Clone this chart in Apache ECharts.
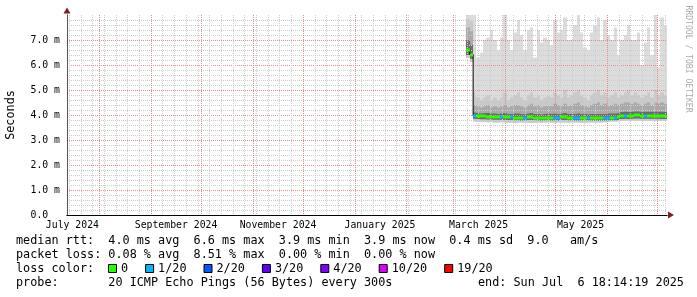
<!DOCTYPE html>
<html>
<head>
<meta charset="utf-8">
<script src="https://cdn.jsdelivr.net/npm/echarts@6/dist/echarts.min.js"></script>
<style>
html, body { margin: 0; padding: 0; background: #fff; }
#chart { width: 697px; height: 297px; }
</style>
</head>
<body>
<div id="chart"></div>
<script>
// smokeping rtt graph, last ~360 days
const startTime = '2024-07-12 18:14:19'
const endTime = '2025-07-06 18:14:19'
const firstSample = '2025-03-08 18:14:19'
const sampleStepDays = 2

const labelDates = ['2024-07-16', '2024-09-16', '2024-11-16', '2025-01-16', '2025-03-16', '2025-05-16']
const labelTexts = ['July 2024', 'September 2024', 'November 2024', 'January 2025', 'March 2025', 'May 2025']
const monthStarts = ['2024-08-01', '2024-09-01', '2024-10-01', '2024-11-01', '2024-12-01', '2025-01-01',
    '2025-02-01', '2025-03-01', '2025-04-01', '2025-05-01', '2025-06-01', '2025-07-01']
const firstSunday = '2024-07-14'

// values in ms, one per 2 day step
const median = [
    6.62, 6.42, 3.96, 3.96, 3.96, 3.95, 3.94, 3.93, 3.93, 3.92,
    3.93, 3.92, 3.91, 3.91, 3.90, 3.90, 3.89, 3.90, 3.92, 3.92,
    3.90, 3.89, 3.88, 3.90, 3.90, 3.89, 3.90, 3.89, 3.91, 3.91,
    3.90, 3.90, 3.89, 3.89, 3.90, 3.90, 3.90, 3.89, 3.89, 3.88,
    3.89, 3.89, 3.90, 3.90, 3.90, 3.92, 3.98, 3.98, 3.97, 3.98,
    3.99, 3.99, 3.98, 3.98, 3.98, 3.98, 3.98, 3.98, 3.97, 3.97,
    3.97]
const pingMin = [
    6.28, 6.12, 3.74, 3.73, 3.72, 3.72, 3.71, 3.72, 3.70, 3.70,
    3.71, 3.70, 3.69, 3.70, 3.68, 3.70, 3.70, 3.70, 3.69, 3.68,
    3.69, 3.70, 3.68, 3.70, 3.70, 3.69, 3.69, 3.70, 3.70, 3.70,
    3.69, 3.70, 3.70, 3.70, 3.69, 3.69, 3.70, 3.70, 3.70, 3.70,
    3.70, 3.71, 3.72, 3.74, 3.74, 3.75, 3.76, 3.77, 3.77, 3.77,
    3.77, 3.77, 3.77, 3.76, 3.76, 3.76, 3.76, 3.76, 3.76, 3.76,
    3.76]
const pingLow = [
    6.40, 6.25, 3.85, 3.84, 3.83, 3.83, 3.82, 3.82, 3.81, 3.81,
    3.81, 3.80, 3.80, 3.80, 3.79, 3.79, 3.78, 3.79, 3.80, 3.80,
    3.79, 3.78, 3.78, 3.79, 3.79, 3.78, 3.79, 3.78, 3.80, 3.80,
    3.79, 3.79, 3.78, 3.78, 3.79, 3.79, 3.79, 3.78, 3.78, 3.77,
    3.78, 3.78, 3.79, 3.79, 3.79, 3.80, 3.84, 3.85, 3.84, 3.85,
    3.86, 3.86, 3.85, 3.85, 3.85, 3.85, 3.85, 3.85, 3.84, 3.84,
    3.84]
const pingNear = [
    7.00, 6.80, 4.10, 4.08, 4.06, 4.08, 4.08, 4.06, 4.06, 4.04,
    4.06, 4.08, 4.04, 4.04, 4.06, 4.06, 4.04, 4.03, 4.06, 4.08,
    4.04, 4.04, 4.02, 4.04, 4.06, 4.04, 4.06, 4.04, 4.06, 4.08,
    4.04, 4.04, 4.04, 4.06, 4.04, 4.04, 4.03, 4.04, 4.04, 4.04,
    4.04, 4.04, 4.06, 4.06, 4.06, 4.08, 4.12, 4.13, 4.12, 4.13,
    4.14, 4.14, 4.13, 4.13, 4.13, 4.13, 4.14, 4.13, 4.13, 4.13,
    4.13]
const pingP75 = [
    7.50, 7.35, 4.40, 4.35, 4.30, 4.35, 4.40, 4.30, 4.35, 4.30,
    4.35, 4.40, 4.30, 4.35, 4.40, 4.40, 4.35, 4.30, 4.40, 4.45,
    4.35, 4.40, 4.30, 4.35, 4.40, 4.35, 4.45, 4.40, 4.35, 4.45,
    4.35, 4.40, 4.45, 4.50, 4.40, 4.35, 4.30, 4.40, 4.45, 4.50,
    4.40, 4.45, 4.35, 4.40, 4.45, 4.40, 4.45, 4.50, 4.50, 4.45,
    4.50, 4.45, 4.40, 4.45, 4.50, 4.40, 4.50, 4.45, 4.50, 4.45,
    4.45]
const pingP90 = [
    7.85, 7.75, 4.90, 4.70, 4.60, 4.70, 4.80, 4.60, 4.70, 4.60,
    4.70, 4.90, 4.60, 4.70, 4.80, 4.90, 4.70, 4.60, 4.80, 4.90,
    4.70, 4.80, 4.60, 4.70, 4.80, 4.70, 4.90, 4.80, 4.70, 5.00,
    4.70, 4.80, 4.90, 5.00, 4.80, 4.70, 4.60, 4.80, 4.90, 5.00,
    4.80, 4.90, 4.70, 4.80, 4.90, 4.70, 4.80, 4.90, 5.00, 4.80,
    4.90, 4.80, 4.70, 4.80, 4.90, 4.70, 5.00, 4.80, 4.90, 4.80,
    4.80]
const pingMax = [
    8.05, 8.05, 8.00, 6.30, 6.50, 7.00, 7.10, 7.40, 7.00, 6.60,
    7.10, 8.05, 7.00, 6.60, 7.30, 7.80, 7.20, 6.60, 7.40, 7.50,
    6.30, 7.40, 6.90, 7.10, 7.00, 6.80, 7.80, 7.30, 7.40, 7.90,
    7.00, 7.00, 7.60, 8.00, 7.30, 6.70, 6.60, 7.30, 7.60, 7.90,
    7.00, 7.80, 7.20, 7.00, 7.50, 6.40, 7.00, 7.20, 7.60, 7.00,
    7.00, 7.30, 6.00, 6.90, 7.50, 6.40, 8.05, 5.90, 7.90, 7.60,
    7.60]
// lost pings out of 20
const lossCount = [
    0, 0, 1, 0, 0, 0, 0, 0, 0, 0,
    1, 0, 0, 1, 0, 0, 0, 1, 0, 0,
    0, 0, 0, 0, 0, 0, 1, 1, 0, 0,
    0, 0, 1, 1, 0, 0, 1, 0, 0, 0,
    0, 1, 1, 0, 1, 0, 0, 1, 0, 0,
    0, 0, 0, 1, 0, 0, 0, 0, 0, 0,
    0]

const lossLevels = [0, 1, 2, 3, 4, 10, 19]
const lossLabels = ['0', '1/20', '2/20', '3/20', '4/20', '10/20', '19/20']
const lossColors = ['#26ff00', '#00b8ff', '#0059ff', '#5e00ff', '#7e00ff', '#dd00ff', '#ff0000']

const legendLines = [
    'median rtt:  4.0 ms avg  6.6 ms max  3.9 ms min  3.9 ms now  0.4 ms sd  9.0   am/s',
    'packet loss: 0.08 % avg  8.51 % max  0.00 % min  0.00 % now',
    'loss color:',
    'probe:       20 ICMP Echo Pings (56 Bytes) every 300s'
]
const endLabel = 'end: Sun Jul  6 18:14:19 2025'

const MONO = '"DejaVu Sans Mono", monospace'
const DAY = 24 * 3600 * 1000
const stepMs = sampleStepDays * DAY

function toTime(s) {
    const [d, t = '00:00:00'] = s.split(' ')
    const [y, m, day] = d.split('-').map(Number)
    const [hh, mm, ss] = t.split(':').map(Number)
    return new Date(y, m - 1, day, hh, mm, ss).getTime()
}

const xMin = toTime(startTime)
const xMax = toTime(endTime)
const labelTimes = labelDates.map(toTime)
const monthTimes = monthStarts.map(toTime)
const weekTimes = []
for (let t = toTime(firstSunday); t < xMax; t += 7 * DAY) weekTimes.push(t)
const sampleTimes = median.map((_, i) => toTime(firstSample) + i * stepMs)

function lossColor(n) {
    let c = lossColors[0]
    lossLevels.forEach((lv, i) => { if (n >= lv) c = lossColors[i] })
    return c
}

// smoke: layered ranges, outer ones lightest
const smokeBands = [[1, 6, '#dcdcdc'], [1, 5, '#c9c9c9'], [2, 4, '#a9a9a9'], [2, 3, '#6c6c6c']]

function renderSmoke(params, api) {
    const t = api.value(0)
    const x0 = Math.round(api.coord([t, 0])[0])
    const x1 = Math.round(api.coord([t + stepMs, 0])[0])
    return {
        type: 'group',
        children: smokeBands.map(([lo, hi, color]) => {
            const yLo = api.coord([t, api.value(lo)])[1]
            const yHi = api.coord([t, api.value(hi)])[1]
            return {
                type: 'rect',
                shape: { x: x0, y: yHi, width: x1 - x0, height: yLo - yHi },
                style: { fill: color }
            }
        })
    }
}

function renderMedian(params, api) {
    const t = api.value(0)
    const p = api.coord([t, api.value(1)])
    const x0 = Math.round(p[0])
    const x1 = Math.round(api.coord([t + stepMs, 0])[0])
    return {
        type: 'rect',
        shape: { x: x0, y: Math.round(p[1]) - 1.5, width: x1 - x0, height: 3 },
        style: { fill: lossColor(api.value(2)) }
    }
}

// plain value axes in ms so the custom tick lists are honoured
const timeBase = { type: 'value', min: xMin, max: xMax, position: 'bottom', z: 3, scale: true }
const valueBase = { type: 'value', min: 0, max: 8, interval: 1, position: 'left', z: 3 }
const minorGrid = { color: '#cdcdcd', width: 1, type: [1, 1], opacity: 1 }
const majorGrid = { color: '#e68c8c', width: 1, type: [1, 1], opacity: 1 }

// legend boxes laid out like rrdtool does
const legendGraphics = []
legendLines.forEach((line, i) => {
    legendGraphics.push({
        type: 'text', x: 16, y: 241 + i * 14, silent: true,
        style: { text: line, font: '11.8px ' + MONO, fill: '#000', verticalAlign: 'middle' }
    })
})
let bx = 108.5
lossLabels.forEach((lab, i) => {
    legendGraphics.push({
        type: 'rect', silent: true,
        shape: { x: bx, y: 264.5, width: 8, height: 8 },
        style: { fill: lossColors[i], stroke: '#000', lineWidth: 1 }
    })
    legendGraphics.push({
        type: 'text', x: bx + 12.5, y: 269, silent: true,
        style: { text: lab, font: '11.8px ' + MONO, fill: '#000', verticalAlign: 'middle' }
    })
    bx += 12.5 + lab.length * 7.1 + 17.5
})
legendGraphics.push({
    type: 'text', x: 478, y: 283, silent: true,
    style: { text: endLabel, font: '11.8px ' + MONO, fill: '#000', verticalAlign: 'middle' }
})
legendGraphics.push({
    type: 'text', x: 11, y: 115, rotation: Math.PI / 2, silent: true,
    style: { text: 'Seconds', font: '11.8px ' + MONO, fill: '#000', align: 'center', verticalAlign: 'middle' }
})
legendGraphics.push({
    type: 'text', x: 688.5, y: 59, rotation: -Math.PI / 2, silent: true,
    style: { text: 'RRDTOOL / TOBI OETIKER', font: '8.1px ' + MONO, fill: '#ababab', align: 'center', verticalAlign: 'middle' }
})

const chart = echarts.init(document.getElementById('chart'))
chart.setOption({
    animation: false,
    backgroundColor: '#fff',
    grid: { left: 67, right: 30, top: 15, bottom: 82 },
    xAxis: [
        {
            ...timeBase,
            axisLine: { show: true, lineStyle: { color: '#000', width: 1 } },
            axisTick: { show: false, customValues: labelTimes },
            axisLabel: {
                customValues: labelTimes,
                formatter: v => labelTexts[labelTimes.indexOf(v)] || '',
                fontFamily: MONO, fontSize: 9.8, color: '#000', margin: 5
            },
            splitLine: { show: false }
        },
        {
            ...timeBase,
            axisLine: { show: false }, axisLabel: { show: false },
            axisTick: { show: false, customValues: weekTimes },
            splitLine: { show: true, lineStyle: minorGrid }
        },
        {
            ...timeBase, z: 3.5,
            axisLine: { show: false }, axisLabel: { show: false },
            axisTick: { show: false, customValues: monthTimes },
            splitLine: { show: true, lineStyle: majorGrid }
        },
        {
            ...timeBase, z: 2,
            axisLine: {
                show: true, lineStyle: { color: '#7f1f1f', width: 1 },
                symbol: ['none', 'triangle'], symbolSize: [7, 6], symbolOffset: [0, 4]
            },
            axisLabel: { show: false }, axisTick: { show: false }, splitLine: { show: false }
        }
    ],
    yAxis: [
        {
            ...valueBase,
            axisLine: { show: true, lineStyle: { color: '#555', width: 1 } },
            axisTick: { show: false },
            axisLabel: {
                formatter: v => v === 0 ? '0.0  ' : (v >= 8 ? '' : v.toFixed(1) + ' m'),
                fontFamily: MONO, fontSize: 9.8, color: '#000', margin: 7
            },
            splitLine: { show: true, showMinLine: false, showMaxLine: false, lineStyle: majorGrid },
            minorTick: { show: false, splitNumber: 5 },
            minorSplitLine: { show: true, lineStyle: minorGrid }
        },
        {
            ...valueBase, z: 2,
            axisLine: {
                show: true, lineStyle: { color: '#7f1f1f', width: 1 },
                symbol: ['none', 'triangle'], symbolSize: [7, 6], symbolOffset: [0, 4.5]
            },
            axisLabel: { show: false }, axisTick: { show: false }, splitLine: { show: false }
        }
    ],
    series: [
        {
            type: 'custom', name: 'smoke', clip: true, z: 2, silent: true,
            renderItem: renderSmoke,
            encode: { x: 0, y: [1, 2, 3, 4, 5, 6] },
            data: sampleTimes.map((t, i) => [t, pingMin[i], pingLow[i], pingNear[i], pingP75[i], pingP90[i], pingMax[i]])
        },
        {
            type: 'line', name: 'median', step: 'end', symbol: 'none', z: 4, silent: true,
            lineStyle: { color: '#000', width: 1 },
            data: sampleTimes.map((t, i) => [t, median[i]])
        },
        {
            type: 'custom', name: 'loss', clip: true, z: 5, silent: true,
            renderItem: renderMedian,
            encode: { x: 0, y: 1 },
            data: sampleTimes.map((t, i) => [t, median[i], lossCount[i]])
        }
    ],
    graphic: legendGraphics
})
</script>
</body>
</html>
